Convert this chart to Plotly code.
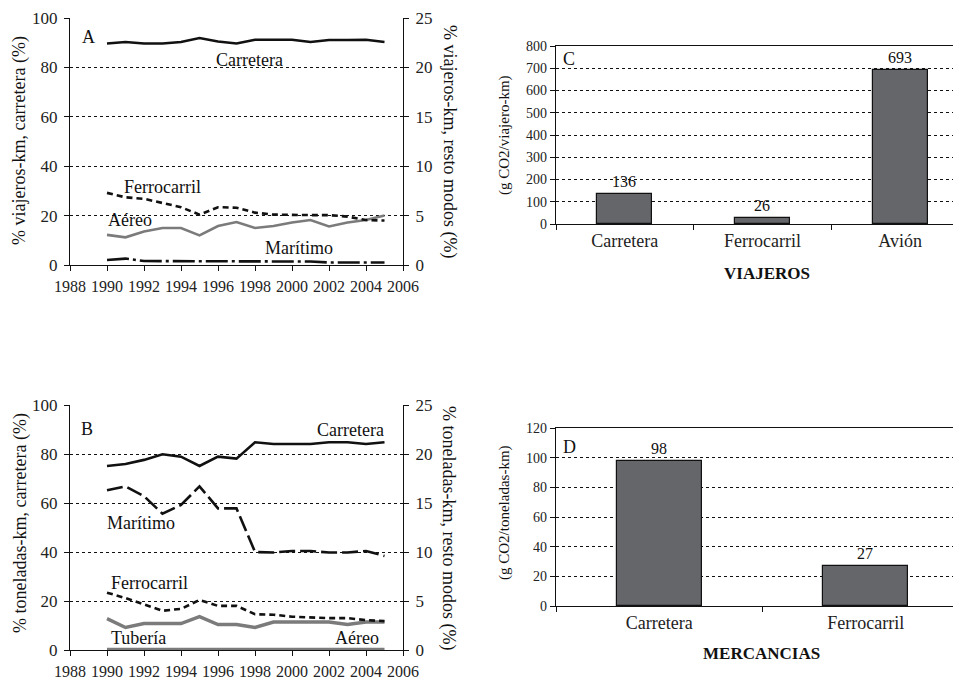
import plotly.graph_objects as go

W, H = 961, 681
OFF = 8  # page body margin of the browser


def px(x):
    return (x - OFF) / W


def py(y):
    return 1 - (y - OFF) / H


# ---------------- DATA ----------------
years = list(range(1990, 2006))
year_ticks = list(range(1988, 2007, 2))

# Panel A (viajeros-km). Carretera on left axis (%), rest on right axis (%)
a_carretera = [89.7, 90.3, 89.7, 89.7, 90.3, 91.9, 90.5, 89.7, 91.2, 91.2, 91.2, 90.3, 91.1, 91.1, 91.2, 90.3]
a_ferrocarril = [7.3, 6.85, 6.7, 6.25, 5.85, 5.1, 5.85, 5.8, 5.3, 5.1, 5.05, 5.05, 5.05, 4.9, 4.55, 4.5]
a_aereo = [3.05, 2.8, 3.4, 3.75, 3.75, 3.0, 3.95, 4.35, 3.75, 3.95, 4.3, 4.55, 3.9, 4.3, 4.55, 5.0]
a_maritimo = [0.5, 0.65, 0.4, 0.4, 0.4, 0.4, 0.4, 0.4, 0.4, 0.4, 0.4, 0.35, 0.25, 0.25, 0.25, 0.25]

# Panel B (toneladas-km)
b_carretera = [75.1, 75.9, 77.6, 79.9, 78.9, 75.1, 78.9, 78.1, 84.8, 84.1, 84.1, 84.1, 84.8, 84.8, 84.1, 84.8]
b_maritimo = [16.3, 16.7, 15.7, 13.9, 14.8, 16.7, 14.45, 14.45, 10.0, 9.95, 10.1, 10.1, 9.95, 9.95, 10.1, 9.6]
b_ferrocarril = [5.85, 5.3, 4.65, 4.0, 4.2, 5.1, 4.5, 4.5, 3.65, 3.6, 3.4, 3.3, 3.25, 3.25, 3.05, 2.95]
b_tuberia = [3.2, 2.3, 2.7, 2.7, 2.7, 3.4, 2.6, 2.6, 2.3, 2.85, 2.85, 2.85, 2.85, 2.6, 2.85, 2.85]
b_aereo = [0.05] * 16

# Panel C
c_categories = ["Carretera", "Ferrocarril", "Avión"]
c_values = [136, 26, 693]

# Panel D
d_categories = ["Carretera", "Ferrocarril"]
d_values = [98, 27]

# ---------------- STYLE ----------------
FONT = "Liberation Serif, Times New Roman, serif"
BLACK = "#111111"
GRAY = "#7b7b7b"
BAR = "#65666a"
LW = 2.6

fig = go.Figure()

# Panel A
fig.add_trace(go.Scatter(x=years, y=a_carretera, mode="lines", xaxis="x", yaxis="y",
                         line=dict(color=BLACK, width=LW)))
fig.add_trace(go.Scatter(x=years, y=a_aereo, mode="lines", xaxis="x", yaxis="y2",
                         line=dict(color=GRAY, width=LW)))
fig.add_trace(go.Scatter(x=years, y=a_ferrocarril, mode="lines", xaxis="x", yaxis="y2",
                         line=dict(color=BLACK, width=LW, dash="6px,4px")))
fig.add_trace(go.Scatter(x=years, y=a_maritimo, mode="lines", xaxis="x", yaxis="y2",
                         line=dict(color=BLACK, width=LW, dash="22px,4px,3px,4px")))

# Panel B
fig.add_trace(go.Scatter(x=years, y=b_carretera, mode="lines", xaxis="x2", yaxis="y3",
                         line=dict(color=BLACK, width=LW)))
fig.add_trace(go.Scatter(x=years, y=b_tuberia, mode="lines", xaxis="x2", yaxis="y4",
                         line=dict(color=GRAY, width=3.4)))
fig.add_trace(go.Scatter(x=years, y=b_aereo, mode="lines", xaxis="x2", yaxis="y4",
                         line=dict(color=GRAY, width=3.4)))
fig.add_trace(go.Scatter(x=years, y=b_maritimo, mode="lines", xaxis="x2", yaxis="y4",
                         line=dict(color=BLACK, width=LW, dash="16px,5px")))
fig.add_trace(go.Scatter(x=years, y=b_ferrocarril, mode="lines", xaxis="x2", yaxis="y4",
                         line=dict(color=BLACK, width=LW, dash="6px,4px")))

# Panel C
fig.add_trace(go.Bar(x=c_categories, y=c_values, xaxis="x3", yaxis="y5", width=0.4,
                     marker=dict(color=BAR, line=dict(color=BLACK, width=1.2)),
                     text=c_values, textposition="outside", cliponaxis=False,
                     textfont=dict(family=FONT, size=16, color=BLACK)))

# Panel D
fig.add_trace(go.Bar(x=d_categories, y=d_values, xaxis="x4", yaxis="y6", width=0.41,
                     marker=dict(color=BAR, line=dict(color=BLACK, width=1.2)),
                     text=d_values, textposition="outside", cliponaxis=False,
                     textfont=dict(family=FONT, size=16, color=BLACK)))

line_axis = dict(showline=True, linecolor=BLACK, linewidth=1.4, ticks="outside",
                 ticklen=5, tickcolor=BLACK, tickwidth=1.2, zeroline=False, automargin=False,
                 tickfont=dict(family=FONT, size=17, color="#222"))
grid = dict(showgrid=True, gridcolor=BLACK, griddash="dot", gridwidth=1)


def ax(*parts, **kw):
    out = {}
    for p in parts:
        out.update(p)
    out.update(kw)
    return out


xA = ax(line_axis, domain=[px(70), px(403)], range=[1988, 2006], tickvals=year_ticks,
        showgrid=False, tickfont=dict(family=FONT, size=16, color="#222"), ticklabelstandoff=2)

fig.update_layout(
    template="none",
    width=W, height=H, margin=dict(l=0, r=0, t=0, b=0, pad=0, autoexpand=False),
    paper_bgcolor="white", plot_bgcolor="white", showlegend=False,
    font=dict(family=FONT, color=BLACK),
    bargap=0,
    xaxis=ax(xA, anchor="y"),
    yaxis=ax(line_axis, grid, domain=[py(265), py(18)], range=[0, 100], dtick=20, anchor="x",
             ticklabelstandoff=3),
    yaxis2=ax(line_axis, overlaying="y", side="right", anchor="x", range=[0, 25], dtick=5,
              showgrid=False, ticklabelstandoff=3),
    xaxis2=ax(xA, anchor="y3", layer="below traces"),
    yaxis3=ax(line_axis, grid, domain=[py(650), py(405)], range=[0, 100], dtick=20, anchor="x2",
              ticklabelstandoff=3),
    yaxis4=ax(line_axis, overlaying="y3", side="right", anchor="x2", range=[0, 25], dtick=5,
              showgrid=False, ticklabelstandoff=3),
    xaxis3=ax(line_axis, domain=[px(556), 1], anchor="y5", type="category",
              range=[-0.5, 2.5], tickson="boundaries", mirror=True, showgrid=False,
              tickfont=dict(family=FONT, size=18, color="#222")),
    yaxis5=ax(line_axis, grid, domain=[py(224), py(46)], range=[0, 800], dtick=100, anchor="x3",
              tickfont=dict(family=FONT, size=14, color="#222")),
    xaxis4=ax(line_axis, domain=[px(556), 1], anchor="y6", type="category",
              range=[-0.5, 1.5], tickson="boundaries", mirror=True, showgrid=False,
              tickfont=dict(family=FONT, size=18, color="#222")),
    yaxis6=ax(line_axis, grid, domain=[py(606), py(428)], range=[0, 120], dtick=20, anchor="x4",
              tickfont=dict(family=FONT, size=14, color="#222")),
)


def label(text, x, y, size=18, angle=0, bold=False):
    if bold:
        text = "<b>" + text + "</b>"
    fig.add_annotation(text=text, x=px(x), y=py(y), xref="paper", yref="paper",
                       showarrow=False, textangle=angle, xanchor="center", yanchor="middle",
                       font=dict(family=FONT, size=size, color=BLACK))


# Panel A texts
label("A", 88, 37)
label("Carretera", 249, 60)
label("Ferrocarril", 162, 187)
label("Aéreo", 130, 220)
label("Marítimo", 299, 248)
label("% viajeros-km, carretera (%)", 20, 141, angle=-90)
label("% viajeros-km, resto modos (%)", 449, 141, angle=90)

# Panel B texts
label("B", 87, 429)
label("Carretera", 350, 430)
label("Marítimo", 141, 523)
label("Ferrocarril", 149, 583)
label("Tubería", 138, 638)
label("Aéreo", 357, 638)
label("% toneladas-km, carretera (%)", 20, 523, angle=-90)
label("% toneladas-km, resto modos (%)", 449, 528, angle=90)

# Panel C texts
label("C", 569, 59)
label("(g CO2/viajero-km)", 504, 135, size=15, angle=-90)
label("VIAJEROS", 767, 273, size=17, bold=True)

# Panel D texts
label("D", 569, 447)
label("(g CO2/toneladas-km)", 504, 513, size=15, angle=-90)
label("MERCANCIAS", 761, 653, size=17, bold=True)

fig.write_html("out.html")
